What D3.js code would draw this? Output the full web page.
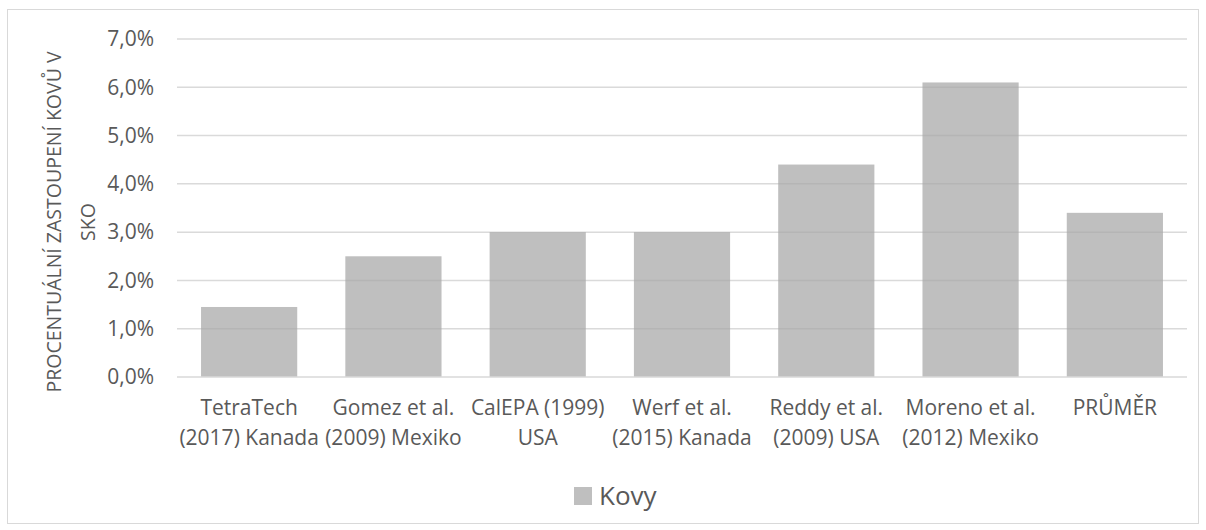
<!DOCTYPE html>
<html><head><meta charset="utf-8">
<script src="https://cdn.jsdelivr.net/npm/d3@7"></script>
<style>body{margin:0;background:#fff}svg{display:block}text{font-family:"Open Sans",sans-serif;fill:#595959}</style>
</head><body>
<script>
const categories = [
  ["TetraTech","(2017) Kanada"],
  ["Gomez et al.","(2009) Mexiko"],
  ["CalEPA (1999)","USA"],
  ["Werf et al.","(2015) Kanada"],
  ["Reddy et al.","(2009) USA"],
  ["Moreno et al.","(2012) Mexiko"],
  ["PRŮMĚR"]
];
const values = [0.0145, 0.025, 0.030, 0.030, 0.044, 0.061, 0.034];
const yTicks = [0,0.01,0.02,0.03,0.04,0.05,0.06,0.07];
const seriesName = "Kovy";
const yTitle = ["PROCENTUÁLNÍ ZASTOUPENÍ KOVŮ V","SKO"];

const W=1206,H=530;
const svg=d3.select("body").append("svg").attr("width",W).attr("height",H);
svg.append("rect").attr("x",7.5).attr("y",9.5).attr("width",1191).attr("height",514)
  .attr("fill","#fff").attr("stroke","#d9d9d9");

const x=d3.scaleBand().domain(d3.range(categories.length)).range([177,1187]).paddingInner(1/3).paddingOuter(1/6);
const y=d3.scaleLinear().domain([0,0.07]).range([377,39]);
const fmt=v=>(v*100).toFixed(1).replace(".",",")+"%";

svg.append("g").selectAll("line").data(yTicks.slice(1)).join("line")
  .attr("x1",177).attr("x2",1187).attr("y1",d=>y(d)).attr("y2",d=>y(d))
  .attr("stroke","#e6e6e6").attr("stroke-width",1.5);

svg.append("g").selectAll("rect").data(values).join("rect")
  .attr("x",(d,i)=>x(i)).attr("width",x.bandwidth())
  .attr("y",d=>y(d)).attr("height",d=>y(0)-y(d)).attr("fill","#bfbfbf");

svg.append("g").selectAll("line").data(yTicks.slice(1)).join("line")
  .attr("x1",177).attr("x2",1187).attr("y1",d=>y(d)).attr("y2",d=>y(d))
  .attr("stroke","rgba(0,0,0,0.05)").attr("stroke-width",1.5);

svg.append("line").attr("x1",177).attr("x2",1187).attr("y1",y(0)).attr("y2",y(0))
  .attr("stroke","#d9d9d9").attr("stroke-width",1.5);

svg.append("g").selectAll("text").data(yTicks).join("text")
  .attr("x",154).attr("y",d=>y(d)).attr("dy","0.35em").attr("text-anchor","end")
  .attr("font-size",21).text(fmt);

const xl=svg.append("g").selectAll("text").data(categories).join("text")
  .attr("text-anchor","middle").attr("font-size",21)
  .attr("transform",(d,i)=>`translate(${x(i)+x.bandwidth()/2},415)`);
xl.selectAll("tspan").data(d=>d).join("tspan").attr("x",0).attr("y",(d,j)=>j*29.5).text(d=>d);

const yt=svg.append("text").attr("text-anchor","middle").attr("font-size",19.5)
  .attr("transform",`translate(61,${(y(0)+y(0.07))/2+14}) rotate(-90)`);
yt.selectAll("tspan").data(yTitle).join("tspan").attr("x",0).attr("y",(d,j)=>j*34).text(d=>d);

const lg=svg.append("g");
lg.append("rect").attr("x",574).attr("y",487).attr("width",18).attr("height",18).attr("fill","#bfbfbf");
lg.append("text").attr("x",599).attr("y",505).attr("font-size",26).text(seriesName);
</script>
</body></html>
